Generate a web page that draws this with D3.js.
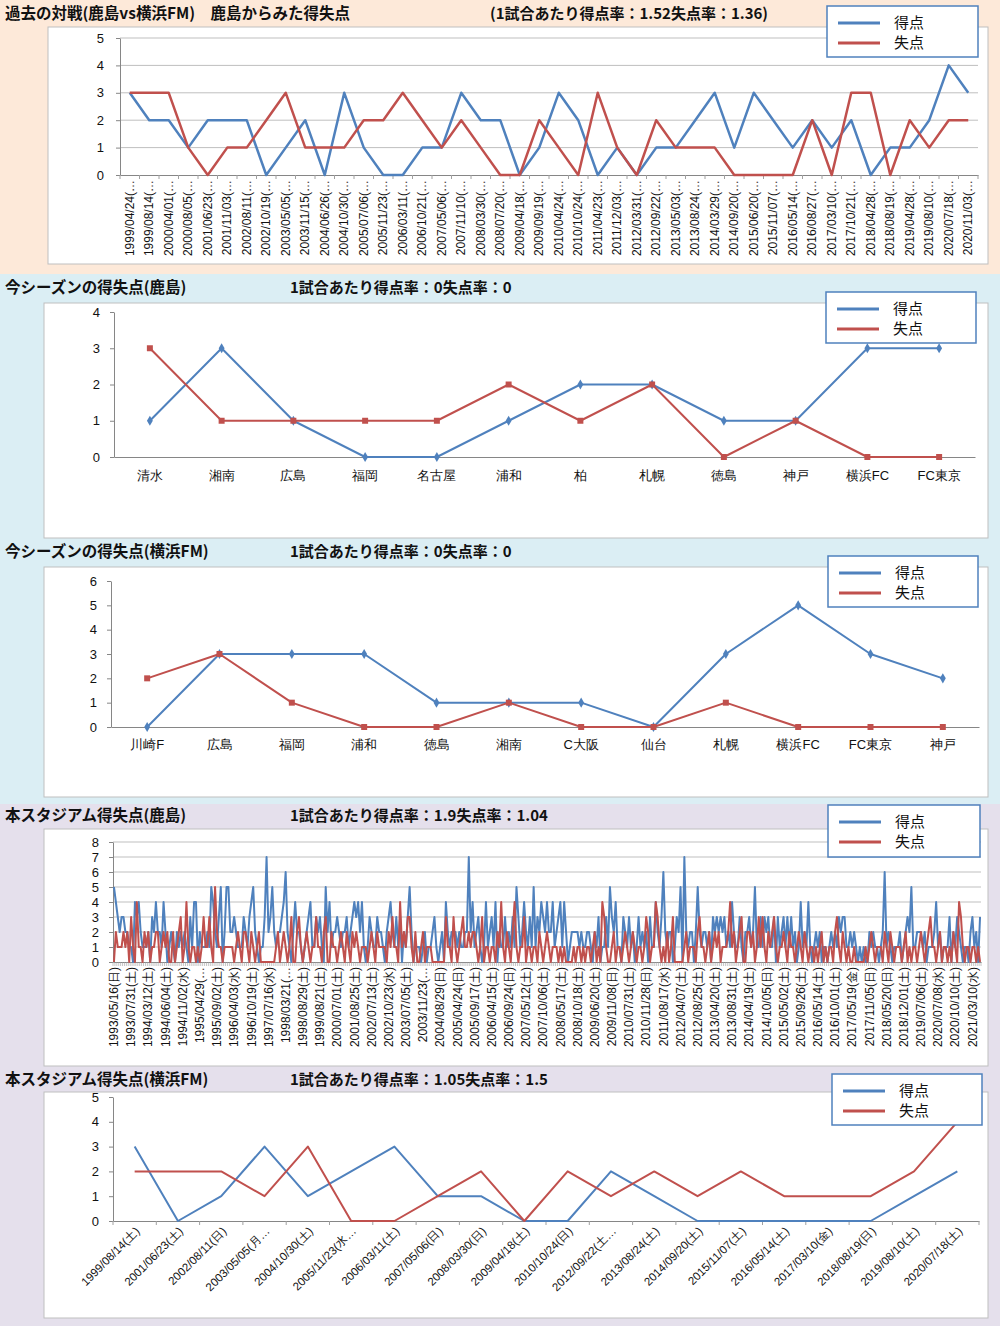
<!DOCTYPE html>
<html>
<head>
<meta charset="utf-8">
<script src="https://cdn.jsdelivr.net/npm/d3@7"></script>
<style>
  body { margin: 0; background: #fff; }
  svg { display: block; font-family: "Noto Sans CJK JP", "Noto Sans", sans-serif; }
</style>
</head>
<body>
<div id="chart"></div>
<script>
// ---- 過去の対戦 (鹿島 vs 横浜FM)
const h2hDates = ['1999/04/24','1999/08/14','2000/04/01','2000/08/05','2001/06/23','2001/11/03','2002/08/11','2002/10/19','2003/05/05','2003/11/15','2004/06/26','2004/10/30','2005/07/06','2005/11/23','2006/03/11','2006/10/21','2007/05/06','2007/11/10','2008/03/30','2008/07/20','2009/04/18','2009/09/19','2010/04/24','2010/10/24','2011/04/23','2011/12/03','2012/03/31','2012/09/22','2013/05/03','2013/08/24','2014/03/29','2014/09/20','2015/06/20','2015/11/07','2016/05/14','2016/08/27','2017/03/10','2017/10/21','2018/04/28','2018/08/19','2019/04/28','2019/08/10','2020/07/18','2020/11/03'];
const h2hFor =     [3,2,2,1,2,2,2,0,1,2,0,3,1,0,0,1,1,3,2,2,0,1,3,2,0,1,0,1,1,2,3,1,3,2,1,2,1,2,0,1,1,2,4,3];
const h2hAgainst = [3,3,3,1,0,1,1,2,3,1,1,1,2,2,3,2,1,2,1,0,0,2,1,0,3,1,0,2,1,1,1,0,0,0,0,2,0,3,3,0,2,1,2,2];

// ---- 今シーズン (鹿島)
const kashimaOpponents = ['清水','湘南','広島','福岡','名古屋','浦和','柏','札幌','徳島','神戸','横浜FC','FC東京'];
const kashimaFor =       [1,3,1,0,0,1,2,2,1,1,3,3];
const kashimaAgainst =   [3,1,1,1,1,2,1,2,0,1,0,0];

// ---- 今シーズン (横浜FM)
const yokohamaOpponents = ['川崎F','広島','福岡','浦和','徳島','湘南','C大阪','仙台','札幌','横浜FC','FC東京','神戸'];
const yokohamaFor =       [0,3,3,3,1,1,1,0,3,5,3,2];
const yokohamaAgainst =   [2,3,1,0,0,1,0,0,1,0,0,0];

// ---- 本スタジアム (鹿島) : tick label every 9th match
const kashimaStadiumLabels = ['1993/05/16(日)','1993/07/31(土)','1994/03/12(土)','1994/06/04(土)','1994/11/02(水)','1995/04/29(…','1995/09/02(土)','1996/04/03(水)','1996/10/19(土)','1997/07/16(水)','1998/03/21(…','1998/08/29(土)','1999/08/21(土)','2000/07/01(土)','2001/08/25(土)','2002/07/13(土)','2002/10/23(水)','2003/07/05(土)','2003/11/23(…','2004/08/29(日)','2005/04/24(日)','2005/09/17(土)','2006/04/15(土)','2006/09/24(日)','2007/05/12(土)','2007/10/06(土)','2008/05/17(土)','2008/10/18(土)','2009/06/20(土)','2009/11/08(日)','2010/07/31(土)','2010/11/28(日)','2011/08/17(水)','2012/04/07(土)','2012/08/25(土)','2013/04/20(土)','2013/08/31(土)','2014/04/19(土)','2014/10/05(日)','2015/05/02(土)','2015/09/26(土)','2016/05/14(土)','2016/10/01(土)','2017/05/19(金)','2017/11/05(日)','2018/05/20(日)','2018/12/01(土)','2019/07/06(土)','2020/07/08(水)','2020/10/10(土)','2021/03/10(水)'];
const kashimaStadiumFor = [
  5,4,3,2,3,3,2,2,1, 1,0,4,3,4,2,1,1,1, 2,0,3,2,4,2,2,1,4, 2,0,1,2,1,0,2,1,2,
  1,2,1,0,3,1,4,4,0, 2,1,1,1,2,1,5,4,2, 1,3,5,0,2,5,5,2,2, 3,2,1,1,1,3,2,1,3,
  4,5,2,1,0,1,1,3,7, 2,3,5,2,1,2,2,3,4, 6,2,1,0,2,4,2,2,1, 0,1,2,3,4,1,1,3,2,
  3,1,0,5,2,4,1,2,2, 3,2,1,2,2,3,1,2,3, 4,3,4,2,4,1,0,1,3, 2,1,1,3,2,2,1,0,2,
  3,4,2,1,3,1,3,0,2, 1,3,5,2,0,1,1,1,0, 1,2,0,1,1,2,3,1,0, 1,2,0,4,2,1,2,2,2,
  1,2,1,1,2,2,7,2,4, 1,2,3,1,0,1,4,1,2, 3,1,4,0,2,1,1,3,1, 2,1,3,1,5,3,1,2,4,
  2,1,3,1,5,1,3,2,4, 3,2,4,2,2,4,1,2,3, 4,1,4,2,0,1,2,2,2, 2,1,2,1,1,2,2,1,0,
  2,1,3,0,1,1,3,1,5, 3,2,4,1,1,0,3,2,1, 3,1,2,0,1,3,1,2,1, 2,0,3,1,1,4,2,1,3,
  6,2,1,2,2,0,1,3,2, 5,0,7,2,1,2,2,0,2, 5,2,1,2,2,1,2,0,3, 2,3,2,3,2,3,1,2,1,
  4,2,1,1,3,1,0,2,2, 3,1,2,5,1,1,3,1,3, 2,3,1,1,3,0,3,1,2, 3,1,3,1,3,1,2,0,1,
  4,1,2,1,4,1,0,1,2, 1,2,0,1,1,0,1,2,1, 2,1,3,2,3,3,1,1,2, 1,2,1,0,1,0,1,0,0,
  2,1,2,1,1,0,1,2,6, 1,2,1,0,1,1,1,2,0, 1,2,3,2,5,1,1,2,2, 2,1,2,0,1,1,1,2,4,
  1,2,0,1,1,1,3,0,2, 1,3,2,1,0,1,1,0,2, 3,1,2,0,3
];
const kashimaStadiumAgainst = [
  0,2,1,1,1,2,1,2,0, 3,1,0,4,1,1,0,2,1, 2,0,1,1,2,2,0,1,2, 1,2,0,0,2,0,1,2,3,
  0,1,4,1,0,1,1,0,1, 0,1,3,1,1,3,1,0,5, 2,1,1,0,1,1,1,1,1, 0,1,2,1,0,2,2,1,0,
  2,1,0,1,2,0,0,0,0, 0,0,0,0,1,2,0,1,2, 1,0,1,3,0,0,2,3,1, 0,1,2,1,0,1,1,3,1,
  1,0,2,3,0,0,2,1,1, 0,1,2,1,0,2,1,0,2, 1,2,1,0,1,1,1,0,1, 2,1,0,2,1,1,1,1,0,
  2,1,3,1,1,0,4,1,2, 1,3,3,1,0,2,0,0,1, 2,0,1,1,1,0,0,0,0, 0,0,0,3,1,1,0,3,1,
  0,1,2,3,1,1,2,1,2, 2,1,0,1,3,0,1,1,0, 1,1,0,2,1,4,1,0,2, 1,0,2,4,1,0,1,1,3,
  0,1,1,0,1,1,0,2,1, 0,1,2,1,0,1,1,1,0, 1,0,1,0,0,0,0,1,0, 1,1,0,1,0,1,1,0,1,
  2,0,1,0,4,3,1,0,0, 1,2,0,1,1,0,1,2,1, 0,1,2,1,0,1,1,0,1, 3,2,0,1,1,4,3,1,0,
  1,0,2,0,1,3,0,0,0, 0,0,1,2,0,1,1,1,0, 2,3,1,1,0,1,2,0,1, 2,1,2,0,1,1,1,2,4,
  1,2,0,1,2,3,0,0,2, 2,1,2,0,1,3,1,3,1, 0,2,1,2,3,1,0,1,1, 2,1,0,2,1,1,0,1,2,
  1,0,2,1,0,1,1,0,1, 0,1,2,0,1,0,1,1,0, 2,3,1,0,2,1,0,1,0, 0,1,0,0,0,0,0,1,0,
  1,2,1,0,1,1,1,0,2, 1,0,2,1,0,1,1,1,0, 1,2,0,1,0,1,1,0,1, 2,1,0,1,2,3,1,1,0,
  1,2,0,1,1,0,1,0,2, 1,0,4,3,1,0,1,1,0, 1,1,0,1,0
];

// ---- 本スタジアム (横浜FM)
const yokohamaStadiumDates = ['1999/08/14(土)','2001/06/23(土)','2002/08/11(日)','2003/05/05(月…','2004/10/30(土)','2005/11/23(水…','2006/03/11(土)','2007/05/06(日)','2008/03/30(日)','2009/04/18(土)','2010/10/24(日)','2012/09/22(土…','2013/08/24(土)','2014/09/20(土)','2015/11/07(土)','2016/05/14(土)','2017/03/10(金)','2018/08/19(日)','2019/08/10(土)','2020/07/18(土)'];
const yokohamaStadiumFor =     [3,0,1,3,1,2,3,1,1,0,0,2,1,0,0,0,0,0,1,2];
const yokohamaStadiumAgainst = [2,2,2,1,3,0,0,1,2,0,2,1,2,1,2,1,1,1,2,4];

const seriesNames = ['得点', '失点'];
const colors = ['#4f81bd', '#c0504d'];

const svg = d3.select('#chart').append('svg').attr('width', 1000).attr('height', 1326);

// section backgrounds
svg.append('rect').attr('x', 0).attr('y', 0).attr('width', 1000).attr('height', 274).attr('fill', '#fde9d9');
svg.append('rect').attr('x', 0).attr('y', 274).attr('width', 1000).attr('height', 530).attr('fill', '#dbeef4');
svg.append('rect').attr('x', 0).attr('y', 804).attr('width', 1000).attr('height', 522).attr('fill', '#e5e0ec');

function drawPanel(s) {
  const g = svg.append('g');
  const n = s.gf.length;

  g.append('rect')
    .attr('x', s.box[0]).attr('y', s.box[1]).attr('width', s.box[2]).attr('height', s.box[3])
    .attr('fill', '#fff').attr('stroke', '#bfbfbf');

  g.append('text').attr('x', 5).attr('y', s.titleY).attr('font-size', 15.5).attr('font-weight', 'bold')
    .attr('fill', '#111').text(s.title);
  g.append('text').attr('x', s.subX).attr('y', s.titleY).attr('font-size', 15).attr('font-weight', 'bold')
    .attr('fill', '#111').text(s.subtitle);

  const x = d3.scaleBand().domain(d3.range(n)).range([s.left, s.right]).padding(0);
  const cx = i => x(i) + x.bandwidth() / 2;
  const y = d3.scaleLinear().domain([0, s.yMax]).range([s.bottom, s.top]);

  if (s.grid) {
    g.append('g')
      .selectAll('line')
      .data(y.ticks(s.yMax).filter(v => v > 0))
      .join('line')
      .attr('x1', s.left).attr('x2', s.right)
      .attr('y1', d => y(d)).attr('y2', d => y(d))
      .attr('stroke', '#bfbfbf');
  }

  // y axis
  const yAxis = g.append('g').attr('transform', `translate(${s.left},0)`)
    .call(d3.axisLeft(y).ticks(s.yMax).tickSize(4).tickSizeOuter(0).tickPadding(s.yPad));
  yAxis.select('.domain').attr('stroke', '#868686');
  yAxis.selectAll('line').attr('stroke', '#868686');
  yAxis.selectAll('text').attr('font-size', 13).attr('fill', '#111')
    .attr('font-family', '"Liberation Sans", Arial, sans-serif');

  // x axis
  const shown = d3.range(n).filter(i => i % s.every === 0);
  const xAxis = g.append('g').attr('transform', `translate(0,${s.bottom})`)
    .call(d3.axisBottom(x).tickValues(shown).tickSize(0).tickSizeOuter(0)
      .tickFormat(i => s.labelOf(i)));
  xAxis.select('.domain').attr('stroke', '#868686');
  const xt = xAxis.selectAll('text').attr('fill', '#111').attr('font-size', s.labelSize);
  if (s.rotate === -90) {
    xt.attr('transform', 'rotate(-90)').attr('x', -s.labelGap).attr('y', 0)
      .attr('dy', '0.35em').style('text-anchor', 'end');
  } else if (s.rotate === -45) {
    xt.attr('transform', `translate(3,${s.labelGap}) rotate(-45)`).attr('x', 0).attr('y', 0)
      .attr('dy', '0.35em').style('text-anchor', 'end');
  } else {
    xt.attr('y', s.labelGap).attr('dy', '0.71em');
  }

  if (s.ticks) {
    g.append('g').selectAll('line')
      .data(d3.range(n + 1))
      .join('line')
      .attr('x1', i => (i < n ? x(i) : s.right)).attr('x2', i => (i < n ? x(i) : s.right))
      .attr('y1', s.bottom).attr('y2', s.bottom + 4)
      .attr('stroke', '#a0a0a0').attr('stroke-width', s.tickWidth || 1);
  }

  // lines
  const line = d3.line().x((d, i) => cx(i)).y(d => y(d));
  [s.gf, s.ga].forEach((vals, k) => {
    g.append('path').datum(vals)
      .attr('fill', 'none').attr('stroke', colors[k])
      .attr('stroke-width', s.lineWidth).attr('stroke-linejoin', 'round')
      .attr('d', line);
  });

  if (s.markers) {
    const shapes = [d3.symbol().type(d3.symbolDiamond).size(30), d3.symbol().type(d3.symbolSquare).size(36)];
    [s.gf, s.ga].forEach((vals, k) => {
      g.append('g').selectAll('path')
        .data(vals)
        .join('path')
        .attr('transform', (d, i) => `translate(${cx(i)},${y(d)})`)
        .attr('d', shapes[k]())
        .attr('fill', colors[k]);
    });
  }

  // legend
  const [lx, ly, lw, lh] = s.legend;
  const lg = g.append('g').attr('transform', `translate(${lx},${ly})`);
  lg.append('rect').attr('width', lw).attr('height', lh).attr('fill', '#fff')
    .attr('stroke', '#4f81bd').attr('stroke-width', 1.5);
  seriesNames.forEach((name, k) => {
    const yy = 17 + k * 20;
    lg.append('line').attr('x1', 11).attr('x2', 53).attr('y1', yy).attr('y2', yy)
      .attr('stroke', colors[k]).attr('stroke-width', 3);
    lg.append('text').attr('x', 67).attr('y', yy).attr('dy', '0.35em')
      .attr('font-size', 15).attr('fill', '#111').text(name);
  });
}

drawPanel({
  title: '過去の対戦(鹿島vs横浜FM)　鹿島からみた得失点',
  subtitle: '(1試合あたり得点率：1.52失点率：1.36)',
  subX: 490, titleY: 19,
  box: [48, 27, 940, 237],
  left: 120, right: 978, top: 38, bottom: 175, yMax: 5, yPad: 12,
  gf: h2hFor, ga: h2hAgainst,
  every: 1, labelOf: i => h2hDates[i] + '(…', labelSize: 12, rotate: -90, labelGap: 5,
  grid: true, ticks: true, markers: false, lineWidth: 2.5,
  legend: [827, 6, 151, 51]
});

drawPanel({
  title: '今シーズンの得失点(鹿島)',
  subtitle: '1試合あたり得点率：0失点率：0',
  subX: 290, titleY: 293,
  box: [44, 303, 944, 235],
  left: 114, right: 975, top: 312, bottom: 457, yMax: 4, yPad: 10,
  gf: kashimaFor, ga: kashimaAgainst,
  every: 1, labelOf: i => kashimaOpponents[i], labelSize: 13, rotate: 0, labelGap: 14,
  grid: false, ticks: false, markers: true, lineWidth: 2,
  legend: [826, 292, 150, 51]
});

drawPanel({
  title: '今シーズンの得失点(横浜FM)',
  subtitle: '1試合あたり得点率：0失点率：0',
  subX: 290, titleY: 557,
  box: [44, 567, 944, 230],
  left: 111, right: 979, top: 581, bottom: 727, yMax: 6, yPad: 10,
  gf: yokohamaFor, ga: yokohamaAgainst,
  every: 1, labelOf: i => yokohamaOpponents[i], labelSize: 13, rotate: 0, labelGap: 13,
  grid: false, ticks: false, markers: true, lineWidth: 2,
  legend: [828, 556, 150, 51]
});

drawPanel({
  title: '本スタジアム得失点(鹿島)',
  subtitle: '1試合あたり得点率：1.9失点率：1.04',
  subX: 290, titleY: 821,
  box: [44, 829, 944, 237],
  left: 113, right: 981, top: 842, bottom: 962, yMax: 8, yPad: 10,
  gf: kashimaStadiumFor, ga: kashimaStadiumAgainst,
  every: 9, labelOf: i => kashimaStadiumLabels[i / 9], labelSize: 12, rotate: -90, labelGap: 5,
  grid: true, ticks: true, tickWidth: 0.6, markers: false, lineWidth: 2,
  legend: [828, 805, 152, 52]
});

drawPanel({
  title: '本スタジアム得失点(横浜FM)',
  subtitle: '1試合あたり得点率：1.05失点率：1.5',
  subX: 290, titleY: 1085,
  box: [44, 1092, 944, 226],
  left: 113, right: 979, top: 1097, bottom: 1221, yMax: 5, yPad: 10,
  gf: yokohamaStadiumFor, ga: yokohamaStadiumAgainst,
  every: 1, labelOf: i => yokohamaStadiumDates[i], labelSize: 11.5, rotate: -45, labelGap: 8,
  grid: false, ticks: true, markers: false, lineWidth: 2,
  legend: [832, 1074, 150, 51]
});
</script>
</body>
</html>
